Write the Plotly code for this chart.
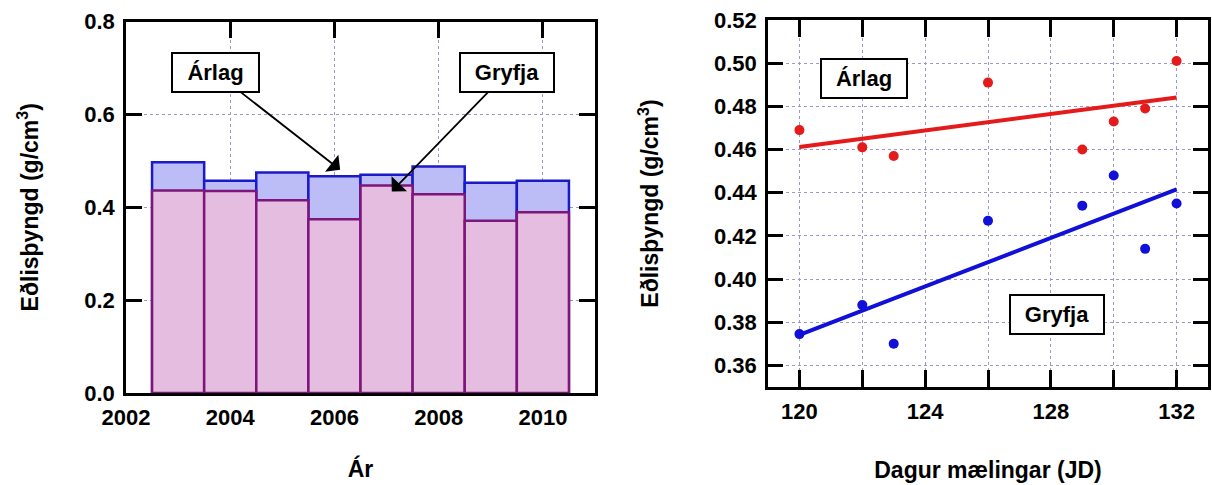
import plotly.graph_objects as go

# ---- Left panel data (annual density) ----
years = [2003, 2004, 2005, 2006, 2007, 2008, 2009, 2010]
arlag_year = [0.497, 0.457, 0.475, 0.467, 0.470, 0.488, 0.453, 0.457]
gryfja_year = [0.436, 0.435, 0.415, 0.374, 0.447, 0.428, 0.371, 0.389]

# ---- Right panel data (day of measurement) ----
days = [120, 122, 123, 126, 129, 130, 131, 132]
arlag_day = [0.469, 0.461, 0.457, 0.491, 0.460, 0.473, 0.479, 0.501]
gryfja_day = [0.3745, 0.388, 0.370, 0.427, 0.434, 0.448, 0.414, 0.435]

# trend lines (endpoints)
fit_days = [120, 132]
arlag_fit = [0.4612, 0.4841]
gryfja_fit = [0.3741, 0.4415]

left_xticks = [2002, 2004, 2006, 2008, 2010]
left_yticks = [0.0, 0.2, 0.4, 0.6, 0.8]
right_yticks = [0.36, 0.38, 0.40, 0.42, 0.44, 0.46, 0.48, 0.50, 0.52]

ytitle = "Eðlisþyngd (g/cm<sup>3</sup>)"

fig = go.Figure()

fig.add_trace(go.Bar(
    x=years, y=arlag_year, width=1, name="Árlag",
    marker=dict(color="#bcbdf7", line=dict(color="#1a1acc", width=2.5)),
    xaxis="x", yaxis="y", showlegend=False))
fig.add_trace(go.Bar(
    x=years, y=gryfja_year, width=1, name="Gryfja",
    marker=dict(color="#e5bde0", line=dict(color="#7d157a", width=2.5)),
    xaxis="x", yaxis="y", showlegend=False))

fig.add_trace(go.Scatter(
    x=days, y=arlag_day, mode="markers", name="Árlag",
    marker=dict(color="#e51a1a", size=10), xaxis="x2", yaxis="y2", showlegend=False))
fig.add_trace(go.Scatter(
    x=days, y=gryfja_day, mode="markers", name="Gryfja",
    marker=dict(color="#1010d8", size=10), xaxis="x2", yaxis="y2", showlegend=False))
fig.add_trace(go.Scatter(
    x=fit_days, y=arlag_fit, mode="lines",
    line=dict(color="#e51a1a", width=4), xaxis="x2", yaxis="y2", showlegend=False))
fig.add_trace(go.Scatter(
    x=fit_days, y=gryfja_fit, mode="lines",
    line=dict(color="#1010d8", width=4), xaxis="x2", yaxis="y2", showlegend=False))

FAMILY = "Liberation Sans, Arial, sans-serif"
GRIDC = "#9a9ac8"
grid = dict(showgrid=True, gridcolor=GRIDC, gridwidth=1, griddash="dot",
            showline=True, linecolor="black", linewidth=2.5, mirror="ticks",
            ticks="inside", tickcolor="black", tickwidth=2.5, zeroline=False,
            automargin=False)
tfont = dict(size=23, family=FAMILY, weight="bold", color="black")

fig.update_layout(
    width=1212, height=485,
    margin=dict(l=126, r=4, t=20, b=92),
    paper_bgcolor="white", plot_bgcolor="white",
    barmode="overlay",
    font=dict(family=FAMILY, size=22, color="black", weight="bold"),
    xaxis=dict(domain=[0, 469/1082], anchor="y", range=[2002, 2011],
               tickvals=left_xticks, ticklen=17, layer="below traces", ticklabelstandoff=3,
               title=dict(text="Ár", standoff=32, font=tfont), **grid),
    yaxis=dict(domain=[0, (393-21.5)/373], anchor="x", range=[0, 0.8],
               tickvals=left_yticks, tickformat=".1f", ticklen=16, layer="below traces",
               ticklabelstandoff=4,
               title=dict(text=ytitle, standoff=40, font=tfont), **grid),
    xaxis2=dict(domain=[642/1082, 1], anchor="y2", range=[119, 133],
                tick0=120, dtick=4, ticklen=17, ticklabelstandoff=3,
                minor=dict(tick0=120, dtick=2, ticks="inside", ticklen=17, tickwidth=2.5,
                           tickcolor="black", showgrid=True, gridcolor=GRIDC,
                           gridwidth=1, griddash="dot"),
                title=dict(text="Dagur mælingar (JD)", standoff=39, font=tfont), **grid),
    yaxis2=dict(domain=[6/373, 1], anchor="x2", range=[0.35, 0.52],
                tickvals=right_yticks, tickformat=".2f", ticklen=15, ticklabelstandoff=4,
                title=dict(text=ytitle, standoff=49, font=tfont), **grid),
)

box = dict(bordercolor="black", borderwidth=2, borderpad=6,
           bgcolor="white", font=dict(size=22, family=FAMILY, weight="bold", color="black"))
fig.add_annotation(x=122.06, y=0.493, xref="x2", yref="y2", text="Árlag",
                   showarrow=False, width=72, height=25, **box)
fig.add_annotation(x=128.19, y=0.3838, xref="x2", yref="y2", text="Gryfja",
                   showarrow=False, width=80, height=25, **box)

arrow = dict(showarrow=True, arrowhead=1, arrowsize=2, arrowwidth=1.8,
             arrowcolor="black", standoff=0, startstandoff=0, xref="x", yref="y",
             axref="x", ayref="y")
fig.add_annotation(x=2006.11, y=0.4805, ax=2003.71, ay=0.691, text="Árlag",
                   width=73, height=25, **box, **arrow)
fig.add_annotation(x=2007.10, y=0.4338, ax=2009.32, ay=0.691, text="Gryfja",
                   width=80, height=25, **box, **arrow)

fig.write_html("out.html", config={"displayModeBar": False},
               post_script="document.body.style.margin='0';document.body.style.overflow='hidden';")
